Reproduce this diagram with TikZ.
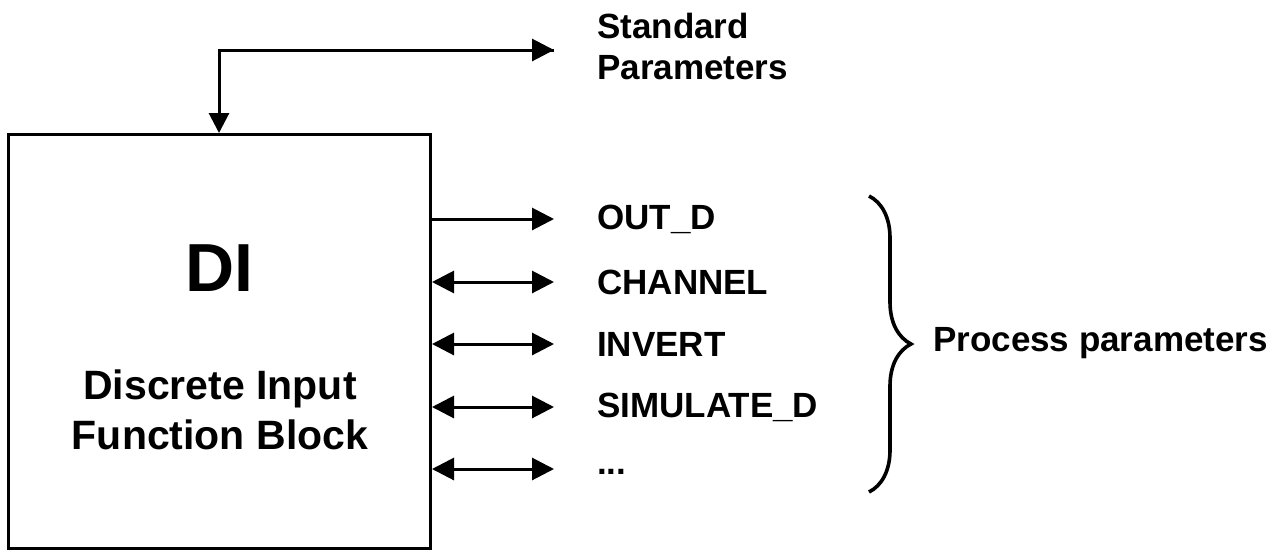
\documentclass[tikz,border=0pt]{standalone}
\usepackage{fontspec}
\setmainfont{Liberation Sans}
\usetikzlibrary{arrows.meta,decorations.pathreplacing}
\begin{document}
\begin{tikzpicture}[x=1pt,y=-1pt,
  line/.style={line width=3pt},
  tip/.style={-{Triangle[length=22pt,width=22pt]}},
  bitip/.style={{Triangle[length=22pt,width=22pt]}-{Triangle[length=22pt,width=22pt]}},
  lbl/.style={anchor=west,inner sep=0pt,font=\fontsize{35}{41}\selectfont\bfseries,align=left},
  boxtxt/.style={inner sep=0pt,font=\fontsize{41}{50}\selectfont\bfseries,align=center}]
\useasboundingbox (0,0) rectangle (1271,552);
% function block
\node[draw,line width=3pt,minimum width=422pt,minimum height=414pt,inner sep=0pt] (box) at (219.5,341.5) {};
\node[inner sep=0pt,font=\fontsize{68}{80}\selectfont\bfseries] (di) at (219,268) {DI};
\node[boxtxt] (desc) at (220,410) {Discrete Input\\Function Block};
% standard parameters
\node[lbl] (std) at (597,46) {Standard\\Parameters};
\coordinate (stdend) at (554,50);
\coordinate (corner) at (219,50);
\draw[line,-{Triangle[length=20pt,width=20pt]}] (stdend) -- (corner) -- (box.north -| corner);
\draw[line,tip] (corner) -- (stdend);
% process parameters
\node[lbl] (p1) at (597,219) {OUT\_D};
\node[lbl] (p2) at (597,282) {CHANNEL};
\node[lbl] (p3) at (597,344) {INVERT};
\node[lbl] (p4) at (597,407) {SIMULATE\_D};
\node[lbl] (p5) at (597,472) {...};
\foreach \i/\y in {1/219,2/282,3/344,4/407,5/469} {
  \coordinate (e\i) at (554,\y);
}
\draw[line,tip] (box.east |- e1) -- (e1);
\foreach \i in {2,3,4,5} {
  \draw[line,bitip] (box.east |- e\i) -- (e\i);
}
% brace
\coordinate (bt) at (869,196);
\coordinate (bb) at (869,492);
\draw[line width=3.6pt,decorate,decoration={brace,amplitude=42pt}] (bt) -- (bb);
\node[lbl] (proc) at (933,343) {Process parameters};
\end{tikzpicture}
\end{document}
